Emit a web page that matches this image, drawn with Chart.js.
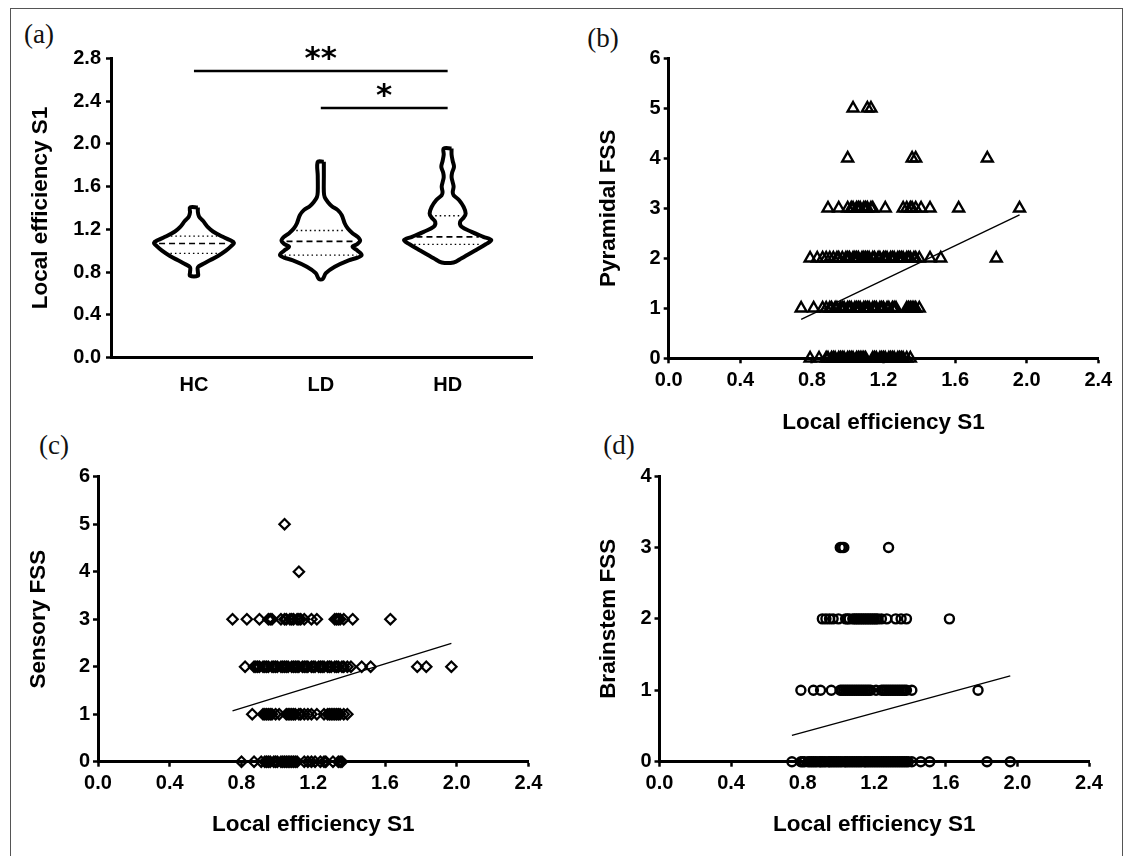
<!DOCTYPE html>
<html><head><meta charset="utf-8">
<script src="https://cdn.jsdelivr.net/npm/chart.js@4.4.1/dist/chart.umd.min.js"></script>
<style>
html,body{margin:0;padding:0;background:#fff;width:1126px;height:856px;overflow:hidden;}
#frame{position:absolute;left:10px;top:8px;width:1113px;height:880px;border:1.5px solid #555;box-sizing:border-box;}
canvas{position:absolute;}
.plabel{position:absolute;font-family:'Liberation Serif','Times New Roman',serif;font-size:27px;line-height:1;color:#111;transform:translate(-50%,-50%);white-space:nowrap;}
</style></head><body>
<div id="frame"></div>
<div class="plabel" style="left:39px;top:34px">(a)</div>
<div class="plabel" style="left:603px;top:38px">(b)</div>
<div class="plabel" style="left:54px;top:445px">(c)</div>
<div class="plabel" style="left:619px;top:445px">(d)</div>
<canvas id="ca" width="530" height="380" style="left:20px;top:40px"></canvas>
<canvas id="cb" width="540" height="400" style="left:580px;top:40px"></canvas>
<canvas id="cc" width="535" height="395" style="left:15px;top:455px"></canvas>
<canvas id="cd" width="545" height="395" style="left:575px;top:455px"></canvas>
<script>
// ---------- Panel (a): violin plot data ----------
const groupNames = ['HC', 'LD', 'HD'];
const groupPos = [0, 1, 2];
// outline levels (Local efficiency S1) and half-widths (relative density, in group-axis units)
const hcLevels    = [1.405, 1.36, 1.32, 1.28, 1.22, 1.18, 1.13, 1.10, 1.075, 1.04, 1.00, 0.95, 0.91, 0.875, 0.845, 0.80, 0.765];
const hcHalfWidth = [0.031, 0.031, 0.04, 0.071, 0.11, 0.15, 0.228, 0.283, 0.315, 0.291, 0.252, 0.189, 0.126, 0.071, 0.031, 0.031, 0.031];
const ldLevels    = [1.832, 1.70, 1.55, 1.50, 1.457, 1.417, 1.38, 1.333, 1.255, 1.208, 1.162, 1.13, 1.093, 1.06, 1.036, 1.00, 0.96, 0.935, 0.91, 0.85, 0.79, 0.735];
const ldHalfWidth = [0.024, 0.024, 0.024, 0.031, 0.055, 0.087, 0.134, 0.165, 0.189, 0.213, 0.252, 0.291, 0.31, 0.285, 0.25, 0.29, 0.322, 0.29, 0.22, 0.11, 0.04, 0.015];
const hdLevels    = [1.957, 1.90, 1.84, 1.785, 1.73, 1.69, 1.64, 1.598, 1.55, 1.52, 1.473, 1.41, 1.349, 1.31, 1.27, 1.224, 1.177, 1.13, 1.099, 1.06, 1.00, 0.93, 0.89];
const hdHalfWidth = [0.031, 0.031, 0.04, 0.05, 0.035, 0.031, 0.04, 0.047, 0.04, 0.047, 0.091, 0.126, 0.142, 0.126, 0.098, 0.11, 0.189, 0.281, 0.344, 0.30, 0.213, 0.11, 0.047];
// quartiles [Q1, median, Q3]
const hcQuartiles = [0.975, 1.068, 1.137];
const ldQuartiles = [0.959, 1.087, 1.19];
const hdQuartiles = [1.059, 1.13, 1.327];
// significance bars
const sigFrom   = [0, 1];
const sigTo     = [2, 2];
const sigLevel  = [2.684, 2.337];
const sigLabels = ['**', '*'];
const effTicksA = [0, 0.4, 0.8, 1.2, 1.6, 2.0, 2.4, 2.8];   // y ticks panel (a)
const effTicksX = [0, 0.4, 0.8, 1.2, 1.6, 2.0, 2.4];        // x ticks panels (b)-(d)

// ---------- Panel (b): Pyramidal FSS ----------
const pyr5 = [1.03, 1.11, 1.13];
const pyr4 = [1.00, 1.36, 1.38, 1.78];
const pyr3 = [0.89, 0.95, 1.00, 1.02, 1.03, 1.05, 1.06, 1.07, 1.09, 1.10, 1.11, 1.13, 1.14, 1.21, 1.31, 1.33, 1.35, 1.36, 1.38, 1.41, 1.46, 1.62, 1.96];
const pyr2 = [0.79, 0.83, 0.86, 0.88, 0.90, 0.92, 0.94, 0.95, 0.97, 0.99, 1.00, 1.01, 1.03, 1.04, 1.05, 1.06, 1.08, 1.09, 1.10, 1.11, 1.12, 1.14, 1.15, 1.17, 1.18, 1.20, 1.21, 1.22, 1.24, 1.25, 1.26, 1.28, 1.29, 1.30, 1.31, 1.33, 1.34, 1.35, 1.37, 1.38, 1.40, 1.46, 1.52, 1.83];
const pyr1 = [0.74, 0.81, 0.86, 0.88, 0.90, 0.91, 0.93, 0.94, 0.96, 0.97, 0.98, 1.00, 1.01, 1.02, 1.04, 1.05, 1.06, 1.07, 1.09, 1.10, 1.11, 1.12, 1.14, 1.15, 1.16, 1.18, 1.19, 1.20, 1.22, 1.23, 1.25, 1.26, 1.27, 1.33, 1.34, 1.35, 1.36, 1.37, 1.38, 1.40];
const pyr0 = [0.79, 0.84, 0.88, 0.89, 0.91, 0.92, 0.93, 0.95, 0.96, 0.97, 0.98, 1.00, 1.01, 1.02, 1.03, 1.05, 1.06, 1.07, 1.08, 1.09, 1.10, 1.14, 1.15, 1.16, 1.18, 1.19, 1.20, 1.21, 1.23, 1.24, 1.25, 1.26, 1.28, 1.29, 1.30, 1.31, 1.33, 1.35];
const pyrFitX = [0.74, 1.96];
const pyrFitY = [0.78, 2.87];

// ---------- Panel (c): Sensory FSS ----------
const sen5 = [1.04];
const sen4 = [1.12];
const sen3 = [0.75, 0.83, 0.90, 0.95, 0.96, 0.97, 1.02, 1.04, 1.05, 1.07, 1.08, 1.09, 1.11, 1.12, 1.13, 1.15, 1.19, 1.22, 1.32, 1.33, 1.34, 1.35, 1.37, 1.42, 1.63];
const sen2 = [0.82, 0.87, 0.88, 0.89, 0.90, 0.92, 0.93, 0.94, 0.95, 0.97, 0.98, 0.99, 1.00, 1.02, 1.03, 1.04, 1.05, 1.06, 1.08, 1.09, 1.10, 1.11, 1.12, 1.14, 1.15, 1.16, 1.17, 1.19, 1.20, 1.21, 1.23, 1.24, 1.25, 1.26, 1.28, 1.29, 1.30, 1.32, 1.33, 1.34, 1.36, 1.37, 1.39, 1.41, 1.47, 1.52, 1.78, 1.83, 1.97];
const sen1 = [0.86, 0.92, 0.93, 0.94, 0.95, 0.96, 0.97, 0.99, 1.01, 1.05, 1.06, 1.07, 1.08, 1.09, 1.10, 1.12, 1.13, 1.15, 1.17, 1.19, 1.22, 1.26, 1.28, 1.29, 1.30, 1.31, 1.32, 1.33, 1.34, 1.35, 1.37, 1.39];
const sen0 = [0.80, 0.87, 0.91, 0.93, 0.94, 0.95, 0.96, 0.98, 0.99, 1.00, 1.02, 1.03, 1.04, 1.05, 1.06, 1.07, 1.08, 1.09, 1.10, 1.11, 1.15, 1.17, 1.19, 1.21, 1.24, 1.26, 1.27, 1.31, 1.34, 1.35, 1.36];
const senFitX = [0.75, 1.97];
const senFitY = [1.07, 2.49];

// ---------- Panel (d): Brainstem FSS ----------
const bst3 = [1.01, 1.02, 1.03, 1.28];
const bst2 = [0.91, 0.93, 0.95, 0.97, 1.00, 1.04, 1.05, 1.06, 1.08, 1.09, 1.10, 1.11, 1.12, 1.13, 1.14, 1.15, 1.16, 1.17, 1.18, 1.19, 1.20, 1.21, 1.22, 1.24, 1.27, 1.32, 1.35, 1.38, 1.62];
const bst1 = [0.79, 0.86, 0.90, 0.96, 1.01, 1.02, 1.03, 1.04, 1.05, 1.06, 1.07, 1.08, 1.09, 1.10, 1.11, 1.12, 1.13, 1.14, 1.15, 1.16, 1.17, 1.18, 1.21, 1.24, 1.25, 1.26, 1.27, 1.28, 1.29, 1.30, 1.31, 1.32, 1.33, 1.34, 1.35, 1.36, 1.37, 1.38, 1.41, 1.78];
const bst0 = [0.74, 0.79, 0.80, 0.81, 0.83, 0.84, 0.85, 0.86, 0.87, 0.88, 0.895, 0.90, 0.91, 0.92, 0.93, 0.945, 0.95, 0.96, 0.97, 0.98, 0.99, 1.00, 1.01, 1.02, 1.035, 1.04, 1.05, 1.06, 1.07, 1.08, 1.09, 1.10, 1.11, 1.12, 1.13, 1.145, 1.15, 1.16, 1.17, 1.18, 1.19, 1.20, 1.21, 1.22, 1.23, 1.24, 1.25, 1.26, 1.27, 1.28, 1.29, 1.30, 1.31, 1.32, 1.33, 1.34, 1.35, 1.36, 1.37, 1.38, 1.39, 1.41, 1.46, 1.51, 1.83, 1.96];
const bstFitX = [0.74, 1.96];
const bstFitY = [0.37, 1.20];

// ---------- helpers ----------
const FONT = "'Liberation Sans', Arial, sans-serif";
Chart.defaults.font.family = FONT;
Chart.defaults.color = '#000';

function outline(c, levels, hw) {
  const pts = [];
  levels.forEach((v, i) => pts.push({x: c + hw[i], y: v}));
  for (let i = levels.length - 1; i >= 0; i--) pts.push({x: c - hw[i], y: levels[i]});
  pts.push({x: pts[0].x, y: pts[0].y});
  return pts;
}
function hwAt(levels, hw, v) {
  for (let i = 0; i < levels.length - 1; i++) {
    const a = levels[i], b = levels[i + 1];
    if (v <= a && v >= b) { const t = (a - v) / (a - b); return hw[i] + (hw[i + 1] - hw[i]) * t; }
  }
  return 0;
}
function lineDs(pts, width, dash) {
  return {data: pts, showLine: true, borderColor: '#000', borderWidth: width, borderDash: dash || [],
          pointRadius: 0, fill: false, tension: 0, clip: false};
}
const tickGrid = {display: true, drawOnChartArea: false, drawTicks: true, tickLength: 5, tickWidth: 2.5, tickColor: '#000', color: '#000'};
function yAxis(min, max, ticksList, fmt, title, width, titlePad, tickPad) {
  return {
    type: 'linear', min: min, max: max,
    afterBuildTicks: s => { s.ticks = ticksList.map(v => ({value: v})); },
    ticks: {callback: fmt, font: {size: 20, weight: 'bold'}, color: '#000', padding: tickPad, autoSkip: false},
    grid: tickGrid,
    border: {display: true, color: '#000', width: 3},
    title: {display: true, text: title, font: {size: 22.5, weight: 'bold'}, color: '#000', padding: {top: titlePad, bottom: 0}},
    afterFit: s => { s.width = width; }
  };
}
function xEffAxis(height, titlePad) {
  return {
    type: 'linear', min: 0, max: 2.4,
    afterBuildTicks: s => { s.ticks = effTicksX.map(v => ({value: v})); },
    ticks: {callback: v => Number(v).toFixed(1), font: {size: 20, weight: 'bold'}, color: '#000', padding: 5, autoSkip: false, maxRotation: 0},
    grid: tickGrid,
    border: {display: true, color: '#000', width: 3},
    title: {display: true, text: 'Local efficiency S1', font: {size: 22.5, weight: 'bold'}, color: '#000', padding: {top: 0, bottom: titlePad}},
    afterFit: s => { s.height = height; }
  };
}
function levelPoints(lists) {
  const pts = [];
  lists.forEach(([score, xs]) => xs.forEach(x => pts.push({x: x, y: score})));
  return pts;
}
const baseOpts = {responsive: false, animation: false, devicePixelRatio: 1,
  plugins: {legend: {display: false}, tooltip: {enabled: false}}};

// ---------- Panel (a) ----------
(function () {
  const outlines = [[hcLevels, hcHalfWidth, hcQuartiles], [ldLevels, ldHalfWidth, ldQuartiles], [hdLevels, hdHalfWidth, hdQuartiles]];
  const ds = [];
  outlines.forEach(([lv, hw, q], g) => {
    const c = groupPos[g];
    ds.push(Object.assign(lineDs(outline(c, lv, hw), 4), {tension: 0.35}));
    q.forEach((v, k) => {
      const w = Math.max(hwAt(lv, hw, v) - 0.035, 0);
      ds.push(lineDs([{x: c - w, y: v}, {x: c + w, y: v}], k === 1 ? 1.6 : 1.4, k === 1 ? [6, 4] : [1.5, 3]));
    });
  });
  sigLevel.forEach((lvl, i) => ds.push(lineDs([{x: groupPos[sigFrom[i]], y: lvl}, {x: groupPos[sigTo[i]], y: lvl}], 2.5)));

  const sigPlugin = {
    id: 'sig',
    afterDatasetsDraw(chart) {
      const {ctx, scales: {x, y}} = chart;
      ctx.save();
      ctx.fillStyle = '#000';
      ctx.font = "bold 31px 'DejaVu Sans'";
      ctx.textAlign = 'center';
      ctx.textBaseline = 'alphabetic';
      sigLabels.forEach((t, i) => {
        const px = x.getPixelForValue((groupPos[sigFrom[i]] + groupPos[sigTo[i]]) / 2);
        const py = y.getPixelForValue(sigLevel[i]);
        ctx.fillText(t, px, py - 20 + 0.55 * 31);
      });
      ctx.restore();
    }
  };

  new Chart(document.getElementById('ca'), {
    type: 'scatter',
    data: {datasets: ds},
    plugins: [sigPlugin],
    options: Object.assign({}, baseOpts, {
      layout: {padding: {top: 18.5, right: 18, left: 0, bottom: 0}},
      scales: {
        x: {
          type: 'linear', min: -0.654, max: 2.665,
          afterBuildTicks: s => { s.ticks = groupPos.map(v => ({value: v})); },
          ticks: {callback: v => groupNames[v], font: {size: 20, weight: 'bold'}, color: '#000', padding: 15.5, autoSkip: false, maxRotation: 0},
          grid: {display: true, drawOnChartArea: false, drawTicks: false},
          border: {display: true, color: '#000', width: 3},
          afterFit: s => { s.height = 62.5; }
        },
        y: yAxis(0, 2.8, effTicksA, v => Number(v).toFixed(1), 'Local efficiency S1', 91, 7.5, 5)
      }
    })
  });
})();

// ---------- scatter panels ----------
function scatterPanel(id, pts, fitX, fitY, style, radius, bw, yMax, yTicks, yWidth, yTitle, yTitlePad, xHeight, xTitlePad, pad) {
  new Chart(document.getElementById(id), {
    type: 'scatter',
    data: {datasets: [
      {data: pts, pointStyle: style, pointRadius: radius, pointBorderWidth: bw, borderColor: '#000',
       backgroundColor: 'rgba(0,0,0,0)', pointBackgroundColor: 'rgba(0,0,0,0)', pointBorderColor: '#000', clip: false},
      lineDs([{x: fitX[0], y: fitY[0]}, {x: fitX[1], y: fitY[1]}], 1.3)
    ]},
    options: Object.assign({}, baseOpts, {
      layout: {padding: pad},
      scales: {
        x: xEffAxis(xHeight, xTitlePad),
        y: yAxis(0, yMax, yTicks, v => String(v), yTitle, yWidth, yTitlePad, 3)
      }
    })
  });
}

const fssTicks6 = [0, 1, 2, 3, 4, 5, 6];
const fssTicks4 = [0, 1, 2, 3, 4];

scatterPanel('cb',
  levelPoints([[0, pyr0], [1, pyr1], [2, pyr2], [3, pyr3], [4, pyr4], [5, pyr5]]),
  pyrFitX, pyrFitY, 'triangle', 6.3, 2.4, 6, fssTicks6, 88.7, 'Pyramidal FSS', 15.5, 81.7, 3.5,
  {top: 18.3, right: 21.7, left: 0, bottom: 0});

scatterPanel('cc',
  levelPoints([[0, sen0], [1, sen1], [2, sen2], [3, sen3], [4, sen4], [5, sen5]]),
  senFitX, senFitY, 'rectRot', 5.2, 2.2, 6, fssTicks6, 83, 'Sensory FSS', 10.5, 88.3, 11.5,
  {top: 21.7, right: 21.5, left: 0, bottom: 0});

scatterPanel('cd',
  levelPoints([[0, bst0], [1, bst1], [2, bst2], [3, bst3]]),
  bstFitX, bstFitY, 'circle', 4.5, 2.4, 4, fssTicks4, 84.5, 'Brainstem FSS', 20.5, 88.3, 11.5,
  {top: 21, right: 31, left: 0, bottom: 0});
</script>
</body></html>
